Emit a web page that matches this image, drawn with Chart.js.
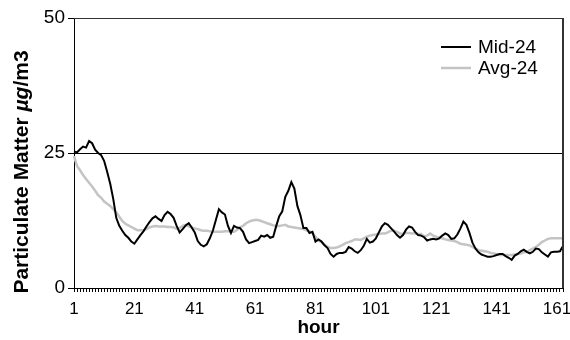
<!DOCTYPE html>
<html>
<head>
<meta charset="utf-8">
<script src="https://cdn.jsdelivr.net/npm/chart.js@4.4.0/dist/chart.umd.min.js"></script>
<style>
  html, body { margin: 0; padding: 0; background: #fff; }
  #wrap { width: 570px; height: 340px; }
</style>
</head>
<body>
<div id="wrap"><canvas id="pm-chart" width="570" height="340"></canvas></div>
<script>
// 시간 (1 ~ 163)
const hours = Array.from({ length: 163 }, (_, i) => String(i + 1));

// Mid-24 값
const mid24 = [
  25.3, 25.1, 25.7, 26.2, 26.0, 27.2, 26.8, 25.6, 25.0, 24.6,
  23.5, 21.5, 19.3, 16.5, 13.0, 11.5, 10.6, 9.8, 9.3, 8.6,
  8.2, 9.0, 9.8, 10.5, 11.4, 12.2, 12.9, 13.3, 12.8, 12.4,
  13.5, 14.1, 13.7, 13.0, 11.5, 10.3, 10.9, 11.6, 12.0, 11.2,
  10.3, 8.7, 8.0, 7.7, 8.1, 9.2, 10.6, 12.6, 14.6, 14.0,
  13.6, 11.5, 10.2, 11.5, 11.2, 11.1, 10.4, 9.0, 8.3, 8.5,
  8.7, 8.9, 9.7, 9.5, 9.8, 9.3, 9.5, 11.5, 13.3, 14.2,
  16.9, 18.0, 19.6, 18.4, 15.2, 13.5, 11.1, 11.1, 10.2, 10.4,
  8.6, 9.0, 8.6, 7.9, 7.4, 6.3, 5.8, 6.3, 6.5, 6.5,
  6.7, 7.6, 7.3, 6.8, 6.5, 7.0, 7.8, 9.1, 8.4, 8.6,
  9.2, 10.3, 11.4, 12.0, 11.7, 11.1, 10.5, 9.8, 9.3, 9.8,
  10.8, 11.4, 11.2, 10.4, 9.8, 9.7, 9.4, 8.8, 9.0, 9.1,
  9.0, 9.2, 9.7, 10.1, 9.8, 9.1, 9.2, 9.9, 11.0, 12.3,
  11.7, 10.2, 8.4, 7.3, 6.6, 6.2, 6.0, 5.8, 5.8, 5.9,
  6.1, 6.3, 6.3, 5.9, 5.6, 5.2, 6.0, 6.3, 6.8, 7.1,
  6.7, 6.4, 6.7, 7.3, 7.2, 6.6, 6.2, 5.8, 6.6, 6.7,
  6.7, 6.8, 7.8,
];

// Avg-24 값
const avg24 = [
  24.4, 22.6, 21.8, 20.9, 20.2, 19.5, 18.8, 18.0, 17.2, 16.7,
  16.0, 15.6, 15.2, 14.6, 14.0, 13.2, 12.4, 11.9, 11.6, 11.3,
  11.0, 10.7, 10.7, 10.7, 10.9, 11.2, 11.4, 11.5, 11.4, 11.4,
  11.4, 11.3, 11.3, 11.2, 11.0, 11.1, 11.5, 11.7, 11.4, 11.2,
  11.0, 10.9, 10.7, 10.6, 10.6, 10.5, 10.4, 10.4, 10.4, 10.4,
  10.5, 10.5, 10.4, 10.4, 10.8, 11.3, 11.5, 12.0, 12.3, 12.5,
  12.6, 12.6, 12.4, 12.2, 12.0, 11.8, 11.6, 11.5, 11.5, 11.6,
  11.7, 11.4, 11.3, 11.2, 11.1, 11.0, 10.9, 10.7, 10.5, 10.2,
  9.5, 8.8, 8.5, 8.0, 7.6, 7.4, 7.4, 7.5, 7.7, 8.0,
  8.3, 8.5, 8.7, 9.0, 9.0, 8.9, 9.2, 9.5, 9.7, 9.8,
  9.9, 10.0, 10.1, 10.1, 10.3, 10.6, 10.6, 10.4, 10.1, 10.0,
  10.2, 10.2, 10.1, 10.1, 10.0, 10.0, 9.6, 9.7, 10.1, 9.7,
  9.5, 9.3, 9.2, 9.0, 8.9, 8.8, 8.7, 8.5, 8.2, 8.1,
  8.0, 7.9, 7.6, 7.3, 7.0, 6.9, 6.8, 6.7, 6.5, 6.4,
  6.3, 6.1, 6.1, 6.1, 6.1, 6.1, 6.2, 6.3, 6.4, 6.6,
  6.7, 7.0, 7.3, 7.6, 8.0, 8.5, 8.8, 9.1, 9.2, 9.2,
  9.2, 9.2, 9.2,
];

// y축 눈금
const yTicks = [0, 25, 50];
const xLabelEvery = 20;

const FONT = '"Liberation Sans", Arial, sans-serif';

// 범례, 축 제목, 테두리 그리기
const decorPlugin = {
  id: 'decor',
  afterDraw(chart) {
    const { ctx, chartArea: a } = chart;
    ctx.save();

    // 플롯 테두리 (위, 오른쪽)
    ctx.strokeStyle = '#333';
    ctx.lineWidth = 1;
    ctx.beginPath();
    ctx.moveTo(a.left, a.top + 0.5);
    ctx.lineTo(a.right, a.top + 0.5);
    ctx.stroke();
    ctx.lineWidth = 2;
    ctx.beginPath();
    ctx.moveTo(a.right, a.top);
    ctx.lineTo(a.right, a.bottom);
    ctx.stroke();

    // 범례
    const items = chart.data.datasets;
    items.forEach((ds, i) => {
      const y = 47 + i * 21;
      ctx.strokeStyle = ds.borderColor;
      ctx.lineWidth = ds.borderWidth;
      ctx.beginPath();
      ctx.moveTo(441, y);
      ctx.lineTo(471, y);
      ctx.stroke();
      ctx.fillStyle = '#000';
      ctx.font = '19px ' + FONT;
      ctx.textBaseline = 'middle';
      ctx.textAlign = 'left';
      ctx.fillText(ds.label, 478, y + 1);
    });

    // y축 제목 (굵게 + 기울임 혼합)
    const parts = [
      { t: 'Particulate Matter ', f: 'bold 21px ' + FONT },
      { t: 'µg', f: 'italic bold 21px ' + FONT },
      { t: '/m3', f: 'bold 21px ' + FONT },
    ];
    let total = 0;
    parts.forEach((p) => {
      ctx.font = p.f;
      p.w = ctx.measureText(p.t).width;
      total += p.w;
    });
    ctx.translate(22, 172);
    ctx.rotate(-Math.PI / 2);
    ctx.fillStyle = '#000';
    ctx.textBaseline = 'middle';
    ctx.textAlign = 'left';
    let x = -total / 2;
    parts.forEach((p) => {
      ctx.font = p.f;
      ctx.fillText(p.t, x, 0);
      x += p.w;
    });
    ctx.restore();
  },
};

new Chart(document.getElementById('pm-chart'), {
  type: 'line',
  data: {
    labels: hours,
    datasets: [
      {
        label: 'Mid-24',
        data: mid24,
        borderColor: '#000',
        borderWidth: 2,
        pointRadius: 0,
        tension: 0,
      },
      {
        label: 'Avg-24',
        data: avg24,
        borderColor: '#c4c4c4',
        borderWidth: 2.5,
        pointRadius: 0,
        tension: 0,
      },
    ],
  },
  options: {
    responsive: false,
    animation: false,
    layout: { padding: { top: 18, right: 4, left: 0, bottom: 0 } },
    plugins: {
      legend: { display: false },
      tooltip: { enabled: false },
    },
    scales: {
      x: {
        type: 'category',
        offset: false,
        border: { color: '#000', width: 1 },
        grid: {
          drawOnChartArea: false,
          drawTicks: true,
          tickLength: 4,
          color: '#000',
        },
        ticks: {
          autoSkip: false,
          maxRotation: 0,
          minRotation: 0,
          padding: 7,
          color: '#000',
          font: { family: FONT, size: 17 },
          callback: (val, i) => (i % xLabelEvery === 0 ? hours[i] : ''),
        },
        title: {
          display: true,
          text: 'hour',
          color: '#000',
          font: { family: FONT, size: 19, weight: 'bold' },
          padding: { top: 0, bottom: 1 },
        },
        afterFit: (scale) => {
          scale.height = 52;
        },
      },
      y: {
        min: 0,
        max: 50,
        border: { color: '#000', width: 1 },
        grid: {
          drawTicks: true,
          tickLength: 6,
          tickColor: '#000',
          color: (c) => (c.tick && c.tick.value === 25 ? '#000' : 'rgba(0,0,0,0)'),
        },
        afterBuildTicks: (scale) => {
          scale.ticks = yTicks.map((v) => ({ value: v }));
        },
        ticks: {
          color: '#000',
          padding: 3,
          font: { family: FONT, size: 19 },
        },
        afterFit: (scale) => {
          scale.width = 74;
        },
      },
    },
  },
  plugins: [decorPlugin],
});
</script>
</body>
</html>
